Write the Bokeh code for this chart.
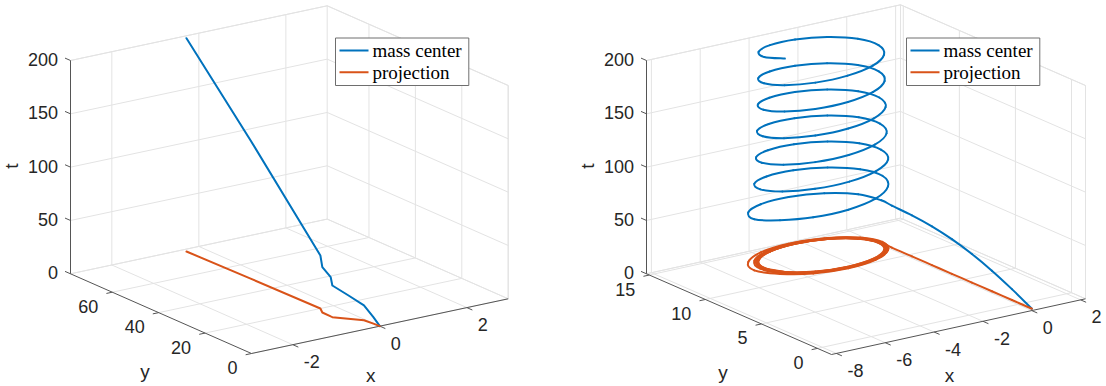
import numpy as np
from bokeh.plotting import figure
from bokeh.models import Range1d
from bokeh.core.properties import value
from bokeh.embed import file_html
from bokeh.resources import INLINE

# ---------------- data ----------------
# left panel: mass-center trajectory (t, x, y)
left_t = [0, 6, 13.9, 22, 29.7, 36.8, 42.5, 49.7, 129.6, 200]
left_x = [0, -0.01, -0.04, -0.23, -0.42, -0.42, -0.41, -0.30, -0.33, -0.37]
left_y = [0, 2.6, 6.1, 9.35, 12.6, 13.3, 17.1, 20.0, 49.5, 76.4]

# right panel: mass-center trajectory (t, x, y)
right_t = [0, 10.2, 19.3, 26.8, 32.5, 36.4, 38.5, 39.3,
           39.6, 41.0, 42.4, 43.8, 45.2, 46.6, 48.0,
           50.34, 52.68, 55.02, 57.36, 59.7,
           62.05, 64.11, 66.16, 68.22, 70.27, 72.33, 74.39, 76.44, 78.5, 80.55, 82.61, 84.66,
           86.72, 88.77, 90.83, 92.89, 94.94, 97.0, 99.05, 101.11, 103.17, 105.22, 107.28, 109.33,
           111.39, 113.45, 115.5, 117.56, 119.61, 121.67, 123.72, 125.78, 127.84, 129.89, 131.95, 134.0,
           136.06, 138.12, 140.17, 142.23, 144.28, 146.34, 148.39, 150.45, 152.51, 154.56, 156.62, 158.67,
           160.73, 162.79, 164.84, 166.9, 168.95, 171.01, 173.06, 175.12, 177.18, 179.23, 181.29, 183.34,
           185.4, 187.46, 189.51, 191.57, 193.62, 195.68, 197.73, 200]
right_x = [0.12, 0.12, 0.12, 0.12, 0.12, 0.12, 0.12, 0.12,
           0.15, -0.20, -1.15, -2.45, -3.75, -4.70, -5.05,
           -4.57, -3.64, -2.36, -1.09, -0.15,
           0.22, -0.12, -1.03, -2.28, -3.53, -4.45, -4.78, -4.45, -3.53, -2.28, -1.03, -0.12,
           0.16, -0.17, -1.06, -2.28, -3.50, -4.39, -4.72, -4.39, -3.50, -2.28, -1.06, -0.17,
           0.12, -0.20, -1.08, -2.28, -3.48, -4.36, -4.68, -4.36, -3.48, -2.28, -1.08, -0.20,
           0.09, -0.23, -1.10, -2.28, -3.47, -4.33, -4.65, -4.33, -3.47, -2.28, -1.10, -0.23,
           0.07, -0.25, -1.11, -2.28, -3.46, -4.32, -4.63, -4.32, -3.46, -2.28, -1.11, -0.25,
           0.06, -0.25, -1.11, -2.28, -3.45, -4.31, -4.62, -4.31]
right_y = [-1.0, 0.78, 2.57, 4.35, 6.14, 7.92, 9.70, 11.49,
           12.5, 13.8, 14.75, 15.1, 14.75, 13.8, 12.5,
           11.25, 10.31, 9.97, 10.31, 11.25,
           12.55, 13.80, 14.72, 15.05, 14.72, 13.80, 12.55, 11.30, 10.39, 10.05, 10.39, 11.30,
           12.55, 13.77, 14.66, 14.99, 14.66, 13.77, 12.55, 11.33, 10.44, 10.11, 10.44, 11.33,
           12.55, 13.75, 14.63, 14.95, 14.63, 13.75, 12.55, 11.35, 10.47, 10.15, 10.47, 11.35,
           12.55, 13.74, 14.60, 14.92, 14.60, 13.74, 12.55, 11.37, 10.50, 10.18, 10.50, 11.37,
           12.55, 13.73, 14.59, 14.90, 14.59, 13.73, 12.55, 11.38, 10.51, 10.20, 10.51, 11.38,
           12.55, 13.72, 14.58, 14.89, 14.58, 13.72, 12.55, 11.38]

t_ticks = [0, 50, 100, 150, 200]
left_xticks = [-2, 0, 2]
left_yticks = [0, 20, 40, 60]
right_xticks = [-8, -6, -4, -2, 0, 2]
right_yticks = [0, 5, 10, 15]
series_names = ["mass center", "projection"]
axis_names = ["x", "y", "t"]

# ---------------- layout / style ----------------
W, H = 1106, 386
BLUE = "#0072BD"
ORANGE = "#D95319"
GRID = "#e3e3e3"
AXC = "#555555"
TXT = "#262626"
SANS = "Liberation Sans"
SERIF = "Liberation Serif"

panels = [
    dict(O=(251.0, 353.0), ex=(256.7, -54.7), ey=(-181.0, -79.7), et=(0.0, -213.3),
         xlim=(-2.95, 2.95), ylim=(0.0, 78.0), tlim=(0.0, 200.0),
         xt=left_xticks, yt=left_yticks, t=left_t, x=left_x, y=left_y, smooth=False,
         legend=(335.0, 37.5)),
    dict(O=(831.0, 354.0), ex=(254.0, -55.7), ey=(-185.0, -80.7), et=(0.0, -213.3),
         xlim=(-8.2, 2.2), ylim=(-1.25, 15.25), tlim=(0.0, 200.0),
         xt=right_xticks, yt=right_yticks, t=right_t, x=right_x, y=right_y, smooth=True,
         legend=(906.0, 37.5)),
]

p = figure(width=W, height=H, x_range=Range1d(0, W), y_range=Range1d(H, 0),
           output_backend="svg", toolbar_location=None, min_border=0)
p.axis.visible = False
p.grid.visible = False
p.outline_line_color = None
p.background_fill_color = "white"
p.border_fill_color = "white"


def proj(P, x, y, t):
    x = np.asarray(x, float); y = np.asarray(y, float); t = np.asarray(t, float)
    a = (x - P["xlim"][0]) / (P["xlim"][1] - P["xlim"][0])
    b = (y - P["ylim"][0]) / (P["ylim"][1] - P["ylim"][0])
    c = (t - P["tlim"][0]) / (P["tlim"][1] - P["tlim"][0])
    px = P["O"][0] + a * P["ex"][0] + b * P["ey"][0] + c * P["et"][0]
    py = P["O"][1] + a * P["ex"][1] + b * P["ey"][1] + c * P["et"][1]
    return px, py


def segs(P, seglist, **kw):
    xs, ys = [], []
    for (a, b) in seglist:
        px, py = proj(P, [a[0], b[0]], [a[1], b[1]], [a[2], b[2]])
        xs.append(list(px)); ys.append(list(py))
    p.multi_line(xs, ys, **kw)


def unit(v):
    v = np.asarray(v, float)
    return v / np.hypot(*v)


def draw_curve(P, px, py, color):
    if not P["smooth"]:
        p.line(px, py, line_color=color, line_width=2, line_join="round", line_cap="round")
        return
    pts = np.column_stack([px, py])
    ext = np.vstack([pts[0], pts, pts[-1]])
    x0, y0, x1, y1, cx0, cy0, cx1, cy1 = ([] for _ in range(8))
    for i in range(len(pts) - 1):
        q0, q1, q2, q3 = ext[i], ext[i + 1], ext[i + 2], ext[i + 3]
        c1 = q1 + (q2 - q0) / 6.0
        c2 = q2 - (q3 - q1) / 6.0
        x0.append(q1[0]); y0.append(q1[1]); x1.append(q2[0]); y1.append(q2[1])
        cx0.append(c1[0]); cy0.append(c1[1]); cx1.append(c2[0]); cy1.append(c2[1])
    p.bezier(x0=x0, y0=y0, x1=x1, y1=y1, cx0=cx0, cy0=cy0, cx1=cx1, cy1=cy1,
             line_color=color, line_width=2, line_cap="round")


for P in panels:
    x0, x1 = P["xlim"]; y0, y1 = P["ylim"]; t0, t1 = P["tlim"]
    g = []
    # floor
    for xv in P["xt"]:
        g.append(((xv, y0, t0), (xv, y1, t0)))
    for yv in P["yt"]:
        g.append(((x0, yv, t0), (x1, yv, t0)))
    g.append(((x0, y1, t0), (x1, y1, t0)))
    g.append(((x1, y0, t0), (x1, y1, t0)))
    # back wall y = ymax
    for xv in P["xt"]:
        g.append(((xv, y1, t0), (xv, y1, t1)))
    for tv in t_ticks:
        g.append(((x0, y1, tv), (x1, y1, tv)))
    g.append(((x1, y1, t0), (x1, y1, t1)))
    g.append(((x0, y1, t1), (x1, y1, t1)))
    # back wall x = xmax
    for yv in P["yt"]:
        g.append(((x1, yv, t0), (x1, yv, t1)))
    for tv in t_ticks:
        g.append(((x1, y0, tv), (x1, y1, tv)))
    g.append(((x1, y0, t0), (x1, y0, t1)))
    g.append(((x1, y0, t1), (x1, y1, t1)))
    segs(P, g, line_color=GRID, line_width=1)

    # axis lines
    segs(P, [((x0, y1, t0), (x0, y1, t1)),
             ((x0, y0, t0), (x0, y1, t0)),
             ((x0, y0, t0), (x1, y0, t0))], line_color=AXC, line_width=1)

    # ticks
    uey = unit(P["ey"]); uex = unit(P["ex"])
    tk_x, tk_y = [], []
    px, py = proj(P, [x0] * len(t_ticks), [y1] * len(t_ticks), t_ticks)
    for a, b in zip(px, py):
        tk_x.append([a, a + 6 * uey[0]]); tk_y.append([b, b + 6 * uey[1]])
    px, py = proj(P, [x0] * len(P["yt"]), P["yt"], [t0] * len(P["yt"]))
    for a, b in zip(px, py):
        tk_x.append([a, a - 6 * uex[0]]); tk_y.append([b, b - 6 * uex[1]])
    px, py = proj(P, P["xt"], [y0] * len(P["xt"]), [t0] * len(P["xt"]))
    for a, b in zip(px, py):
        tk_x.append([a, a - 6 * uey[0]]); tk_y.append([b, b - 6 * uey[1]])
    p.multi_line(tk_x, tk_y, line_color=AXC, line_width=1)

    # tick labels
    px, py = proj(P, [x0] * len(t_ticks), [y1] * len(t_ticks), t_ticks)
    p.text(x=list(px - 12.5), y=list(py - 1), text=[str(v) for v in t_ticks],
           text_font=value(SANS), text_font_size="18px", text_color=TXT,
           text_align="right", text_baseline="middle")
    px, py = proj(P, [x0] * len(P["yt"]), P["yt"], [t0] * len(P["yt"]))
    p.text(x=list(px - 14), y=list(py + 14), text=[str(v) for v in P["yt"]],
           text_font=value(SANS), text_font_size="18px", text_color=TXT,
           text_align="right", text_baseline="middle")
    px, py = proj(P, P["xt"], [y0] * len(P["xt"]), [t0] * len(P["xt"]))
    p.text(x=list(px + 11), y=list(py + 17), text=[str(v) for v in P["xt"]],
           text_font=value(SANS), text_font_size="18px", text_color=TXT,
           text_align="left", text_baseline="middle")

    # axis labels
    ax, ay = proj(P, [(x0 + x1) / 2, x0, x0], [y0, (y0 + y1) / 2, y1], [t0, t0, (t0 + t1) / 2])
    p.text(x=[ax[0] - 9, ax[1] - 16], y=[ay[0] + 49, ay[1] + 58], text=[axis_names[0], axis_names[1]],
           text_font=value(SANS), text_font_size="19px", text_color=TXT,
           text_align="center", text_baseline="middle")
    p.text(x=[ax[2] - 59], y=[ay[2] - 1], text=[axis_names[2]], angle=np.pi / 2,
           text_font=value(SANS), text_font_size="19px", text_color=TXT,
           text_align="center", text_baseline="middle")

    # curves
    bx, by = proj(P, P["x"], P["y"], P["t"])
    ox, oy = proj(P, P["x"], P["y"], [0] * len(P["t"]))
    draw_curve(P, bx, by, BLUE)
    draw_curve(P, ox, oy, ORANGE)

    # legend
    Lx, Ly = P["legend"]
    p.quad(left=[Lx], right=[Lx + 133.3], top=[Ly], bottom=[Ly + 47.5],
           fill_color="white", line_color="#6e6e6e", line_width=1)
    for i, (name, col) in enumerate(zip(series_names, [BLUE, ORANGE])):
        yy = Ly + 12.5 + i * 21.7
        p.line([Lx + 4, Lx + 33], [yy, yy], line_color=col, line_width=2)
        p.text(x=[Lx + 37], y=[yy], text=[name], text_font=value(SERIF),
               text_font_size="19px", text_color="#000000",
               text_align="left", text_baseline="middle")

open("out.html", "w").write(file_html(p, INLINE))
